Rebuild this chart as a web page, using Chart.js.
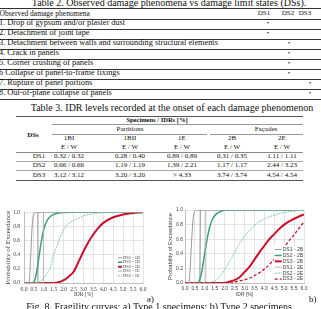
<!DOCTYPE html>
<html lang="en">
<head>
<meta charset="UTF-8">
<title>Fragility curves</title>
<script src="https://cdn.jsdelivr.net/npm/chart.js"></script>
<style>
    body {
        margin: 0;
        width: 321px;
        height: 309px;
        overflow: hidden;
        position: relative;
        background: #fff;
        color: #111;
        font-family: "Liberation Serif", "Times New Roman", serif;
    }
    .t { position: absolute; white-space: nowrap; line-height: 1; }
    .hl { position: absolute; height: 0; }
    canvas { position: absolute; }
</style>
</head>
<body>
<canvas id="chartA" width="160" height="95" style="left:0;top:205px;width:160px;height:95px"></canvas>
<canvas id="chartB" width="161" height="95" style="left:160px;top:205px;width:161px;height:95px"></canvas>
<script>
    // ---- Table 2 ----
    const phenomena = [
        '1. Drop of gypsum and/or plaster dust',
        '2. Detachment of joint tape',
        '3. Detachment between walls and surrounding structural elements',
        '4. Crack in panels',
        '5. Corner crushing of panels',
        '6 Collapse of panel-to-frame fixings',
        '7. Rupture of panel portions',
        '8. Out-of-plane collapse of panels'
    ];
    const phenomenonDS = [1, 1, 2, 2, 2, 2, 3, 3];
    const dsNames = ['DS1', 'DS2', 'DS3'];

    // ---- Table 3 ----
    const specimens = ['1BI', '1BII', '1E', '2B', '2E'];
    const idrDS1 = ['0.32 / 0.32', '0.28 / 0.40', '0.89 / 0.89', '0.31 / 0.35', '1.11 / 1.11'];
    const idrDS2 = ['0.66 / 0.66', '1.19 / 1.19', '1.39 / 2.21', '1.17 / 1.17', '2.44 / 3.23'];
    const idrDS3 = ['3.12 / 3.12', '3.20 / 3.20', '> 4.33', '3.74 / 3.74', '4.54 / 4.54'];

    // ---- Fig. a) Type 1, points [IDR %, probability] ----
    const DS1_1B = [[0, 0], [0.25, 0], [0.3, 0.15], [0.35, 0.45], [0.4, 0.75], [0.45, 0.92], [0.5, 0.98], [0.55, 1], [6, 1]];
    const DS1_1B_step = [[0.68, 0], [0.7, 1]];
    const DS2_1B = [[0, 0], [0.45, 0], [0.55, 0.05], [0.65, 0.18], [0.75, 0.36], [0.85, 0.55], [0.95, 0.7], [1.05, 0.81],
        [1.2, 0.9], [1.4, 0.955], [1.7, 0.985], [2.0, 0.997], [2.5, 1], [6, 1]];
    const DS3_1B = [[0, 0], [1.5, 0], [1.75, 0.01], [2.0, 0.04], [2.25, 0.09], [2.5, 0.16], [2.75, 0.3], [3.0, 0.45],
        [3.25, 0.58], [3.5, 0.69], [3.75, 0.78], [4.0, 0.85], [4.5, 0.93], [5.0, 0.97], [5.5, 0.99], [6, 1]];
    const DS1_1E = [[0, 0], [0.96, 0], [0.98, 1], [6, 1]];
    const DS2_1E = [[0, 0], [0.6, 0], [0.8, 0.02], [1.0, 0.07], [1.15, 0.13], [1.3, 0.2], [1.5, 0.4], [1.7, 0.55],
        [1.9, 0.7], [2.1, 0.8], [2.4, 0.87], [2.7, 0.91], [3.0, 0.95], [3.5, 0.98], [4.0, 0.995], [4.5, 1], [6, 1]];

    // ---- Fig. b) Type 2 ----
    const DS1_2B = [[0, 0], [0.18, 0], [0.25, 0.15], [0.3, 0.4], [0.35, 0.65], [0.4, 0.85], [0.45, 0.95], [0.55, 1], [6, 1]];
    const DS1_2B_step = [[0.75, 0], [0.77, 1]];
    const DS2_2B = [[0, 0], [0.65, 0], [0.75, 0.05], [0.85, 0.16], [0.95, 0.33], [1.05, 0.5], [1.15, 0.65], [1.25, 0.77],
        [1.4, 0.88], [1.6, 0.95], [1.8, 0.98], [2.1, 1], [6, 1]];
    const DS3_2B = [[0, 0], [2.0, 0], [2.25, 0.02], [2.5, 0.04], [2.75, 0.08], [3.0, 0.15], [3.25, 0.22], [3.5, 0.32],
        [3.75, 0.42], [4.0, 0.51], [4.25, 0.6], [4.5, 0.67], [4.75, 0.74], [5.0, 0.8], [5.5, 0.88], [6, 0.94]];
    const DS1_2E = [[0, 0], [1.03, 0], [1.05, 1], [6, 1]];
    const DS2_2E = [[0, 0], [1.2, 0], [1.5, 0.03], [1.75, 0.09], [2.0, 0.18], [2.25, 0.3], [2.5, 0.42], [2.75, 0.54],
        [3.0, 0.64], [3.5, 0.79], [4.0, 0.88], [4.5, 0.93], [5.0, 0.965], [5.5, 0.985], [6, 0.995]];
    const DS3_2E = [[0, 0], [2.25, 0], [2.5, 0.01], [2.75, 0.03], [3.0, 0.045], [3.25, 0.065], [3.5, 0.1], [3.75, 0.14],
        [4.0, 0.19], [4.25, 0.25], [4.5, 0.33], [4.75, 0.41], [5.0, 0.49], [5.25, 0.58], [5.5, 0.66], [5.75, 0.75], [6, 0.84]];

    const xTicks = { min: 0, max: 6, step: 0.5 };

    // ---------- html text helpers ----------
    function text(str, x, base, size, opts = {}) {
        const el = document.createElement('div');
        el.className = 't';
        el.textContent = str;
        el.style.fontSize = size + 'px';
        el.style.top = (base - 0.8375 * size) + 'px';
        el.style.left = x + 'px';
        if (opts.bold) el.style.fontWeight = 'bold';
        if (opts.center) el.style.transform = 'translateX(-50%)';
        document.body.appendChild(el);
    }

    function hline(x1, x2, y, w, color) {
        const el = document.createElement('div');
        el.className = 'hl';
        el.style.left = x1 + 'px';
        el.style.width = (x2 - x1) + 'px';
        el.style.top = y + 'px';
        el.style.borderTop = w + 'px solid ' + color;
        document.body.appendChild(el);
    }

    // Table 2
    text('Table 2. Observed damage phenomena vs damage limit states (DSs).', 169, 6, 10, { center: true });
    hline(0, 321, 8, 1, '#333');
    text('Observed damage phenomena', -0.5, 16, 7.5);
    const dsHeadX = [264, 288, 305];
    const dsDotX = [268, 289, 310];
    dsNames.forEach((d, i) => text(d, dsHeadX[i], 16, 7, { center: true }));
    hline(0, 321, 19, 1, '#333');
    phenomena.forEach((p, i) => {
        const lineY = 29 + i * 10;
        text(p, -1, lineY - 3.5, 8.3);
        text('•', dsDotX[phenomenonDS[i] - 1], lineY - 4, 6, { center: true });
        hline(0, 321, lineY, 1, '#333');
    });

    // Table 3
    text('Table 3. IDR levels recorded at the onset of each damage phenomenon', 172, 111, 10, { center: true });
    const colX = [69, 130, 182, 232, 282];
    hline(16, 303, 116, 1.5, '#555');
    text('Specimens / IDRs [%]', 157, 122.5, 6.5, { bold: true, center: true });
    text('DSs', 33, 137.5, 7, { bold: true, center: true });
    hline(52, 303, 124, 1, '#999');
    text('Partitions', 130, 131.5, 7, { center: true });
    text('Façades', 266, 131.5, 7, { center: true });
    hline(52, 207, 134, 1, '#999');
    hline(210, 303, 134, 1, '#999');
    specimens.forEach((s, i) => {
        text(s, colX[i], 141, 7, { center: true });
        text('E / W', colX[i], 149.5, 7, { center: true });
    });
    hline(16, 303, 152, 1, '#888');
    [idrDS1, idrDS2, idrDS3].forEach((row, r) => {
        const base = 159 + r * 9.2;
        text(dsNames[r], 39, base, 7, { center: true });
        row.forEach((v, i) => text(v, colX[i], base, 7, { center: true }));
        hline(16, 303, 161 + r * 9.3, r === 2 ? 1.5 : 1, r === 2 ? '#555' : '#aaa');
    });

    // caption and panel letters
    text('a)', 147, 303, 9);
    text('b)', 309, 303, 9);
    text('Fig. 8. Fragility curves: a) Type 1 specimens; b) Type 2 specimens', 159, 310.5, 10, { center: true });

    // ---------- charts ----------
    const insideLegend = {
        id: 'insideLegend',
        afterDatasetsDraw(chart, args, o) {
            const ctx = chart.ctx;
            const ca = chart.chartArea;
            const items = chart.data.datasets.filter(d => d.inLegend);
            ctx.save();
            ctx.font = o.font;
            const textW = Math.max(...items.map(d => ctx.measureText(d.label).width));
            const w = o.padX * 2 + o.sample + o.gap + textW;
            const h = o.rowH * items.length + 2;
            const x0 = ca.right - o.right - w;
            const y0 = ca.bottom - o.bottom - h;
            ctx.fillStyle = '#fff';
            ctx.fillRect(x0, y0, w, h);
            items.forEach((d, i) => {
                const cy = y0 + 1 + o.rowH * (i + 0.5);
                ctx.strokeStyle = d.borderColor;
                ctx.lineWidth = d.borderWidth;
                ctx.setLineDash(d.borderDash || []);
                ctx.beginPath();
                ctx.moveTo(x0 + o.padX, cy);
                ctx.lineTo(x0 + o.padX + o.sample, cy);
                ctx.stroke();
                ctx.setLineDash([]);
                ctx.fillStyle = o.color;
                ctx.textBaseline = 'middle';
                ctx.fillText(d.label, x0 + o.padX + o.sample + o.gap, cy);
            });
            ctx.restore();
        }
    };

    const curve = (label, pts, color, width, dash, inLegend = true, straight = false) => ({
        label: label,
        data: pts.map(p => ({ x: p[0], y: p[1] })),
        borderColor: color,
        borderWidth: width,
        borderDash: dash || [],
        pointRadius: 0,
        fill: false,
        tension: straight ? 0 : 0.4,
        cubicInterpolationMode: straight ? 'default' : 'monotone',
        inLegend: inLegend
    });

    const GRAY = '#7f7f7f', LGRAY = '#a8a8a8', GREEN = '#3f9f76', LGREEN = '#7fcaa6', RED = '#c8102e';

    function makeChart(id, datasets, cfg) {
        datasets.forEach((d, i) => { d.order = -i; });
        const tickFont = { family: cfg.family, size: cfg.tickSize };
        return new Chart(document.getElementById(id), {
            type: 'line',
            data: { datasets: datasets },
            options: {
                responsive: false,
                animation: false,
                events: [],
                layout: { padding: cfg.padding },
                plugins: {
                    legend: { display: false },
                    tooltip: { enabled: false },
                    insideLegend: cfg.legend
                },
                scales: {
                    x: {
                        type: 'linear', min: xTicks.min, max: xTicks.max,
                        ticks: { stepSize: xTicks.step, autoSkip: false, maxRotation: 0, padding: 3,
                            font: tickFont, color: '#404040', callback: v => v.toFixed(1) },
                        grid: { color: '#d9d9d9', lineWidth: 0.7, drawTicks: false },
                        border: { color: '#bfbfbf' },
                        title: { display: true, text: 'IDR [%]', color: '#404040', padding: 0,
                            font: { family: cfg.family, size: cfg.tickSize } },
                        afterFit: s => { s.height = 15; }
                    },
                    y: {
                        min: 0, max: 1,
                        ticks: { stepSize: cfg.yStep, padding: cfg.yPad, font: tickFont, color: '#404040',
                            callback: v => v.toFixed(1) },
                        grid: { color: '#d9d9d9', lineWidth: 0.7, drawTicks: false },
                        border: { color: '#bfbfbf' },
                        title: { display: true, text: 'Probability of Exceedance', color: '#404040',
                            padding: cfg.yTitlePad, font: { family: cfg.family, size: cfg.yTitleSize } },
                        afterFit: s => { s.width = cfg.yWidth; }
                    }
                }
            },
            plugins: [insideLegend]
        });
    }

    makeChart('chartA', [
        curve('DS1 - 1B', DS1_1B, GRAY, 0.8),
        curve('DS1 - 1B step', DS1_1B_step, '#6f6f6f', 0.8, null, false, true),
        curve('DS2 - 1B', DS2_1B, GREEN, 1.5),
        curve('DS3 - 1B', DS3_1B, RED, 2),
        curve('DS1 - 1E', DS1_1E, LGRAY, 0.8, null, true, true),
        curve('DS2 - 1E', DS2_1E, LGREEN, 1, [2, 1])
    ], {
        family: 'Liberation Serif', tickSize: 5.5, yStep: 0.2, yPad: 4, yWidth: 24,
        yTitleSize: 7, yTitlePad: { top: 4, bottom: 0 },
        padding: { left: 0, right: 17, top: 6, bottom: 2 },
        legend: { font: '4.5px "Liberation Serif"', rowH: 4.5, sample: 4, gap: 1, padX: 1, right: 2, bottom: 4, color: '#404040' }
    });

    makeChart('chartB', [
        curve('DS1 - 2B', DS1_2B, GRAY, 0.8),
        curve('DS1 - 2B step', DS1_2B_step, '#6f6f6f', 0.8, null, false, true),
        curve('DS2 - 2B', DS2_2B, GREEN, 1.5),
        curve('DS3 - 2B', DS3_2B, RED, 2),
        curve('DS1 - 2E', DS1_2E, LGRAY, 0.8, null, true, true),
        curve('DS2 - 2E', DS2_2E, LGREEN, 1, [2, 1]),
        curve('DS3 - 2E', DS3_2E, RED, 1.3, [3, 2])
    ], {
        family: 'Liberation Sans', tickSize: 5, yStep: 0.1, yPad: 2, yWidth: 25,
        yTitleSize: 5.8, yTitlePad: { top: 7, bottom: 0 },
        padding: { left: 0, right: 17, top: 5, bottom: 2 },
        legend: { font: '5px "Liberation Sans"', rowH: 5.9, sample: 7, gap: 1, padX: 1, right: 0, bottom: 0, color: '#404040' }
    });
</script>
</body>
</html>
